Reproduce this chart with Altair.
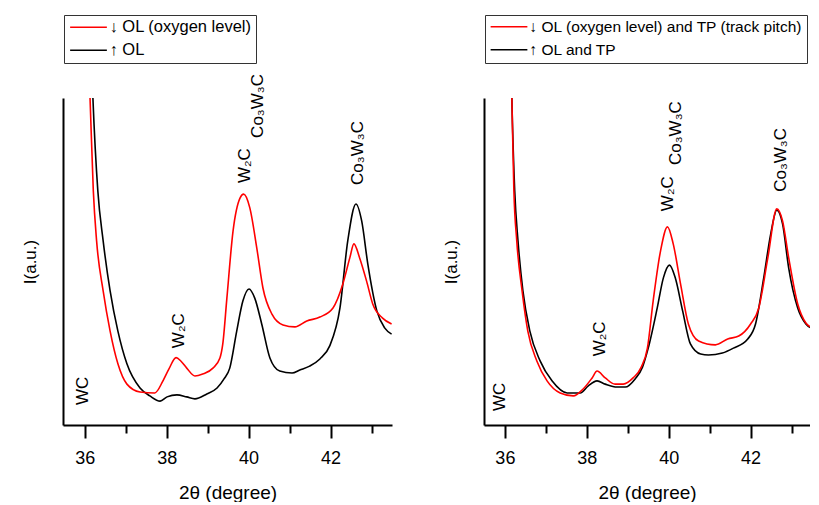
import altair as alt
import pandas as pd

FONT = "Liberation Sans"
RED = "#ff0000"
BLACK = "#000000"

# ---------------- data (2theta in degree, intensity in a.u.) ----------------
# Left panel
left_names = ["\u2193 OL (oxygen level)", "\u2191 OL"]
left_red_x = [36.10, 36.13, 36.21, 36.29, 36.45, 36.62, 36.81, 37.03, 37.35, 37.71,
              37.91, 38.05, 38.23, 38.35, 38.49, 38.69, 38.88, 39.13, 39.30, 39.37,
              39.47, 39.62, 39.79, 39.88, 40.03, 40.20, 40.35, 40.57, 40.84, 41.13,
              41.42, 41.74, 42.06, 42.30, 42.47, 42.57, 42.71, 42.88, 43.03, 43.27, 43.49]
left_red_y = [110, 100, 71.6, 56.3, 41.0, 28.7, 18.7, 12.5, 10.1, 9.8,
              13.5, 17.0, 20.6, 19.5, 17.4, 15.0, 15.6, 17.4, 20.5, 24.8,
              38.8, 59.3, 69.4, 70.6, 66.4, 54.1, 41.9, 33.9, 30.6, 30.0,
              31.8, 33.0, 35.8, 43.1, 51.1, 55.4, 51.1, 44.0, 37.0, 32.7, 30.9]
left_black_x = [36.17, 36.20, 36.32, 36.45, 36.62, 36.81, 37.03, 37.35, 37.59, 37.84,
                38.01, 38.25, 38.49, 38.69, 38.98, 39.23, 39.40, 39.54, 39.71, 39.86,
                40.01, 40.15, 40.32, 40.52, 40.76, 41.06, 41.25, 41.49, 41.74, 41.98,
                42.23, 42.42, 42.62, 42.76, 42.91, 43.13, 43.32, 43.49]
left_black_y = [110, 100, 71.6, 56.3, 41.0, 28.7, 18.7, 11.3, 8.9, 7.3,
                8.6, 9.2, 8.6, 8.0, 9.5, 11.3, 14.1, 17.4, 28.7, 37.9,
                41.6, 38.8, 30.9, 20.5, 16.5, 15.9, 16.8, 18.0, 20.2, 24.2,
                35.8, 56.3, 67.6, 62.4, 49.2, 34.9, 29.7, 27.8]
left_ann_text = ["WC", "W\u2082C", "W\u2082C", "Co\u2083W\u2083C", "Co\u2083W\u2083C"]
left_ann_x = [35.96, 38.30, 39.91, 40.23, 42.67]
left_ann_y = [6.1, 23.5, 74.0, 87.8, 73.4]

# Right panel
right_names = ["\u2193 OL (oxygen level) and TP (track pitch)", "\u2191 OL and TP"]
right_red_x = [36.15, 36.17, 36.22, 36.29, 36.42, 36.56, 36.78, 37.03, 37.35, 37.67,
               37.91, 38.13, 38.25, 38.45, 38.69, 38.89, 39.13, 39.33, 39.48, 39.62,
               39.80, 39.97, 40.11, 40.29, 40.48, 40.73, 41.14, 41.44, 41.71, 42.00,
               42.20, 42.42, 42.64, 42.78, 42.93, 43.15, 43.35, 43.52]
right_red_y = [111, 100, 71.6, 56.3, 41.0, 28.7, 19.6, 13.5, 9.8, 8.9,
               11.0, 14.4, 16.5, 14.4, 12.5, 12.5, 14.4, 17.7, 23.5, 37.9,
               53.2, 60.6, 55.4, 43.1, 30.9, 25.7, 24.5, 26.3, 27.2, 30.9,
               35.8, 51.1, 66.1, 62.4, 51.1, 37.0, 31.2, 29.7]
right_black_x = [36.16, 36.17, 36.24, 36.32, 36.44, 36.61, 36.86, 37.15, 37.52, 37.84,
                 38.03, 38.25, 38.45, 38.74, 38.94, 39.18, 39.36, 39.50, 39.72, 39.87,
                 40.02, 40.16, 40.34, 40.53, 40.78, 40.97, 41.31, 41.58, 41.93, 42.12,
                 42.32, 42.49, 42.64, 42.78, 42.93, 43.15, 43.35, 43.52]
right_black_y = [106, 100, 71.6, 56.3, 41.0, 28.7, 19.6, 13.5, 9.8, 9.8,
                 11.9, 13.5, 12.5, 11.6, 11.6, 14.1, 17.7, 23.5, 35.8, 45.0,
                 48.9, 45.0, 34.9, 24.8, 21.7, 21.4, 22.0, 23.5, 26.3, 30.9,
                 45.0, 58.4, 65.7, 61.5, 48.0, 35.8, 30.9, 29.4]
right_ann_text = ["WC", "W\u2082C", "W\u2082C", "Co\u2083W\u2083C", "Co\u2083W\u2083C"]
right_ann_x = [35.88, 38.32, 39.98, 40.17, 42.73]
right_ann_y = [4.3, 21.0, 65.4, 79.5, 71.3]

x_tick_values = [36, 37, 38, 39, 40, 41, 42, 43]
x_title = "2\u03b8 (degree)"
y_title = "I(a.u.)"


def make_panel(names, rx, ry, bx, by, ax, ay, at, xdom, width, legend_font):
    xs = alt.Scale(domain=xdom, nice=False, zero=False)
    ys = alt.Scale(domain=[0, 100], nice=False, zero=False)
    cs = alt.Scale(domain=names, range=[RED, BLACK])

    x_axis = alt.Axis(
        title=x_title, values=x_tick_values,
        labelExpr="datum.value % 2 == 0 ? datum.label : ''",
        tickSize={"condition": {"test": "datum.value % 2 == 1", "value": 8}, "value": 13},
        tickWidth=2, tickColor=BLACK, domainColor=BLACK, domainWidth=2,
        grid=False, labelFont=FONT, labelFontSize=18, labelColor=BLACK,
        labelPadding=11, titleFont=FONT, titleFontSize=19, titleFontWeight="normal",
        titleColor=BLACK, titlePadding=16,
    )
    y_axis = alt.Axis(
        title=y_title, labels=False, ticks=False, grid=False,
        domainColor=BLACK, domainWidth=2, titleFont=FONT, titleFontSize=17,
        titleFontWeight="normal", titleColor=BLACK, titlePadding=24,
    )
    legend = alt.Legend(
        title=None, orient="none", legendX=1, legendY=-83, direction="vertical",
        symbolType="M-1,0H5", symbolSize=150, symbolStrokeWidth=1.5,
        labelFont=FONT, labelFontSize=legend_font, labelColor=BLACK,
        labelOffset=25, rowPadding=6, padding=4, strokeColor="#333333",
        fillColor="white", labelLimit=400,
    )
    X = alt.X("x:Q", scale=xs, axis=x_axis)
    Y = alt.Y("y:Q", scale=ys, axis=y_axis)
    C = alt.Color("s:N", scale=cs, legend=legend)

    dblack = pd.DataFrame({"x": bx, "y": by, "s": [names[1]] * len(bx)})
    dred = pd.DataFrame({"x": rx, "y": ry, "s": [names[0]] * len(rx)})
    dann = pd.DataFrame({"x": ax, "y": ay, "t": at})

    black = alt.Chart(dblack).mark_line(strokeWidth=1.6, interpolate="monotone", clip=True).encode(
        x=X, y=Y, color=C)
    red = alt.Chart(dred).mark_line(strokeWidth=1.6, interpolate="monotone", clip=True).encode(
        x=X, y=Y, color=C)
    ann = alt.Chart(dann).mark_text(angle=270, align="left", baseline="middle",
                                    font=FONT, fontSize=17, color=BLACK).encode(
        x=X, y=Y, text="t:N")
    return alt.layer(black, red, ann).properties(width=width, height=327)


left = make_panel(left_names, left_red_x, left_red_y, left_black_x, left_black_y,
                  left_ann_x, left_ann_y, left_ann_text, [35.47, 43.5], 329, 16.5)
right = make_panel(right_names, right_red_x, right_red_y, right_black_x, right_black_y,
                   right_ann_x, right_ann_y, right_ann_text, [35.49, 43.45], 326, 15.5)

chart = alt.hconcat(left, right, spacing=50).resolve_scale(
    x="independent", y="independent", color="independent"
).resolve_legend(color="independent").properties(
    padding={"left": 13, "top": 6, "right": 0, "bottom": 0}
).configure(background="white").configure_view(stroke=None)

chart.save("out.html", embed_options={"renderer": "svg", "actions": False})
